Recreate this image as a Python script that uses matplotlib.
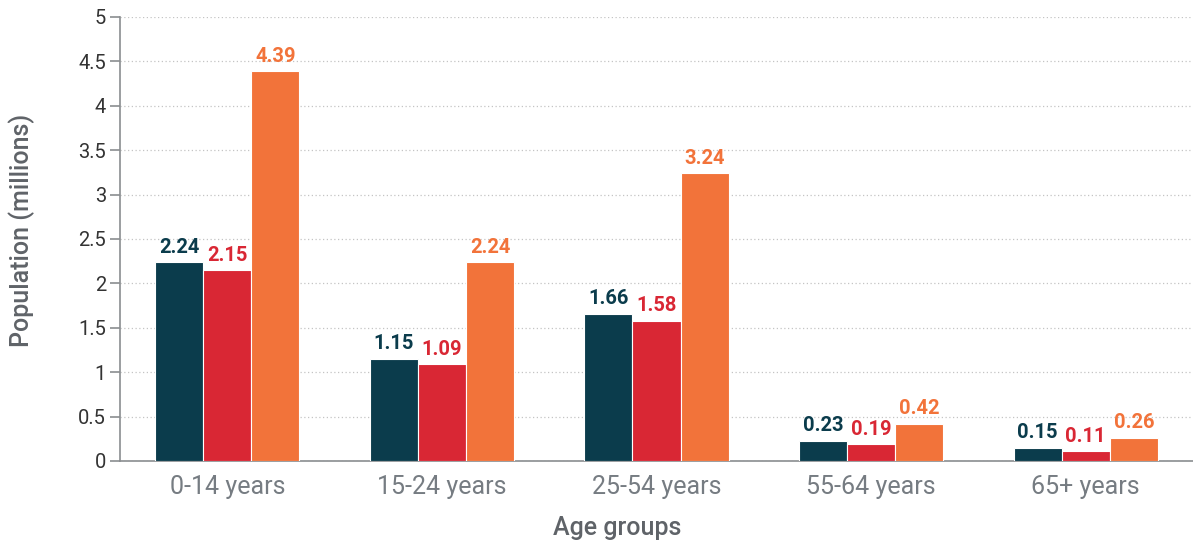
import matplotlib.pyplot as plt
import numpy as np

age_groups = ["0-14 years", "15-24 years", "25-54 years", "55-64 years", "65+ years"]
series_a = [2.24, 1.15, 1.66, 0.23, 0.15]
series_b = [2.15, 1.09, 1.58, 0.19, 0.11]
series_c = [4.39, 2.24, 3.24, 0.42, 0.26]
colors = ["#0b3c4c", "#d92734", "#f2733a"]

plt.rcParams['font.family'] = ['Roboto', 'DejaVu Sans']

fig = plt.figure(figsize=(11.93, 5.48), dpi=100)
ax = fig.add_axes([0.1006, 0.1588, 0.8994, 0.8102])

x = np.arange(len(age_groups))
w = 0.224
for i, (vals, col) in enumerate(zip([series_a, series_b, series_c], colors)):
    pos = x + (i - 1) * w
    ax.bar(pos, vals, width=w, color=col, edgecolor="white", linewidth=0.8, zorder=3)
    for px, v in zip(pos, vals):
        ax.annotate(f"{v:.2f}", (px, v), xytext=(0, 4), textcoords="offset points",
                    ha="center", va="bottom", fontsize=14.5, fontweight="bold", color=col)

ax.set_xlim(-0.5, 4.5)
ax.set_ylim(0, 5)
ax.set_yticks(np.arange(0, 5.01, 0.5))
ax.set_yticklabels(["0", "0.5", "1", "1.5", "2", "2.5", "3", "3.5", "4", "4.5", "5"])
ax.set_xticks(x)
ax.set_xticklabels(age_groups)

ax.grid(axis="y", linestyle=(0, (1, 2)), color="#c4c4c4", linewidth=0.9, zorder=0)
for s in ["top", "right"]:
    ax.spines[s].set_visible(False)
ax.spines["left"].set_color("#8a8d90")
ax.spines["bottom"].set_color("#8a8d90")
ax.spines["left"].set_linewidth(1.2)
ax.spines["bottom"].set_linewidth(1.2)

ax.tick_params(axis="y", length=7, width=1.2, color="#8a8d90", labelsize=14.5,
               labelcolor="#333333", pad=3)
ax.tick_params(axis="x", length=0, labelsize=18, labelcolor="#767c82", pad=10)

ax.set_ylabel("Population (millions)", fontsize=18, color="#5f6368",
              fontweight="medium", va="center")
ax.yaxis.set_label_coords(-0.0913, 0.52)
ax.set_xlabel("Age groups", fontsize=18, color="#5f6368",
              fontweight="medium", va="center")
ax.xaxis.set_label_coords(0.463, -0.151)

fig.savefig("out.png", dpi=100)
